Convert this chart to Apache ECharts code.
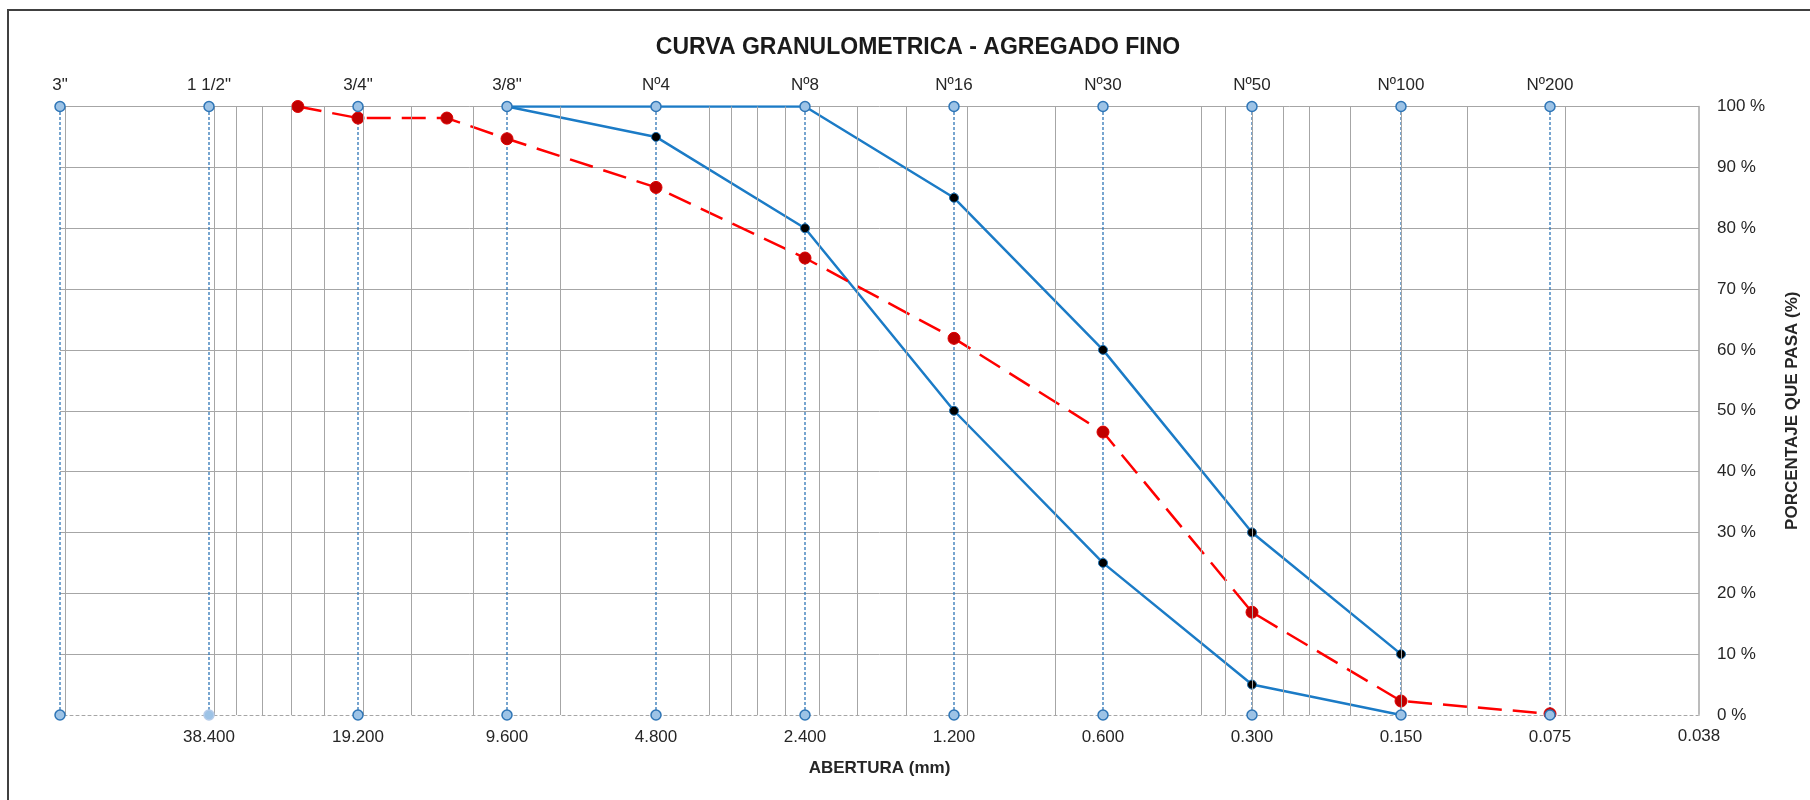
<!DOCTYPE html>
<html>
<head>
<meta charset="utf-8">
<title>Curva granulometrica</title>
<script src="https://cdn.jsdelivr.net/npm/echarts@6/dist/echarts.min.js"></script>
<style>
  html, body { margin: 0; padding: 0; background: #fff; }
  #chart { width: 1810px; height: 800px; }
</style>
</head>
<body>
<div id="chart"></div>
<script>
  // tamices (abertura en mm)
  const SIEVES = ['3"', '1 1/2"', '3/4"', '3/8"', 'Nº4', 'Nº8', 'Nº16', 'Nº30', 'Nº50', 'Nº100', 'Nº200'];
  const SIEVE_MM = [76.8, 38.4, 19.2, 9.6, 4.8, 2.4, 1.2, 0.6, 0.3, 0.15, 0.075];
  const MM_LABELS = ['', '38.400', '19.200', '9.600', '4.800', '2.400', '1.200', '0.600', '0.300', '0.150', '0.075'];
  const AXIS_END_MM = 0.0375;
  const AXIS_END_LABEL = '0.038';
  const AXIS_START_MM = 76.8;

  // huso granulometrico
  const LIMIT_MM = [9.6, 4.8, 2.4, 1.2, 0.6, 0.3, 0.15];
  const LIMIT_UPPER = [100, 100, 100, 85, 60, 30, 10];
  const LIMIT_LOWER = [100, 95, 80, 50, 25, 5, 0];

  // muestra
  const SAMPLE_MM = [25.4, 19.2, 12.7, 9.6, 4.8, 2.4, 1.2, 0.6, 0.3, 0.15, 0.075];
  const SAMPLE_PASA = [100, 98.1, 98.1, 94.7, 86.7, 75.1, 61.9, 46.5, 16.9, 2.3, 0.2];

  // lineas verticales de la grilla (escala log)
  const GRID_MM = [0.075, 0.1125, 0.15, 0.1875, 0.225, 0.2625, 0.3, 0.3375,
    0.375, 0.75, 1.125, 1.5, 1.875, 2.25, 2.625, 3.0, 3.375,
    3.75, 7.5, 11.25, 15, 18.75, 22.5, 26.25, 30, 33.75, 37.5, 75];

  const chart = echarts.init(document.getElementById('chart'));

  const pair = (xs, ys) => xs.map((x, i) => [x, ys[i]]);

  const labelFont = { fontFamily: 'Liberation Sans, Arial', fontSize: 17, color: '#262626' };

  // lineas punteadas de cada tamiz
  const sieveLines = SIEVE_MM.map((mm) => ({
    type: 'line',
    data: [[mm, 0], [mm, 100]],
    showSymbol: false,
    silent: true,
    z: 1,
    lineStyle: { color: '#2E75B6', width: 1.3, type: [3, 2] }
  }));

  chart.setOption({
    backgroundColor: '#fff',
    animation: false,
    title: {
      text: 'CURVA GRANULOMETRICA - AGREGADO FINO',
      left: 913,
      top: 31,
      textAlign: 'center',
      textStyle: { fontFamily: 'Liberation Sans, Arial', fontSize: 23, fontWeight: 'bold', color: '#1a1a1a' }
    },
    graphic: [{
      type: 'rect',
      shape: { x: 8, y: 10, width: 1900, height: 900 },
      style: { fill: 'none', stroke: '#404040', lineWidth: 2 },
      silent: true
    }],
    grid: { left: 60, right: 111, top: 106.5, bottom: 85 },
    xAxis: {
      type: 'log',
      logBase: 2,
      inverse: true,
      min: AXIS_END_MM,
      max: AXIS_START_MM,
      name: 'ABERTURA (mm)',
      nameLocation: 'middle',
      nameGap: 45,
      nameTextStyle: { fontFamily: 'Liberation Sans, Arial', fontSize: 17, fontWeight: 'bold', color: '#262626' },
      axisLine: { show: true, lineStyle: { color: '#a6a6a6', width: 1, type: [3, 3] } },
      axisTick: { show: false },
      axisLabel: { show: false },
      splitLine: { show: false }
    },
    yAxis: {
      type: 'value',
      position: 'right',
      min: 0,
      max: 100,
      interval: 10,
      name: 'PORCENTAJE QUE PASA (%)',
      nameLocation: 'middle',
      nameRotate: 90,
      nameGap: 85,
      nameTextStyle: { fontFamily: 'Liberation Sans, Arial', fontSize: 17, fontWeight: 'bold', color: '#262626' },
      axisLine: { show: true, lineStyle: { color: '#a6a6a6', width: 1.5 } },
      axisTick: { show: false },
      axisLabel: Object.assign({ formatter: '{value} %', margin: 18 }, labelFont),
      splitLine: { show: true, showMinLine: false, lineStyle: { color: '#a6a6a6', width: 1 } }
    },
    series: [
      {
        name: 'grilla',
        type: 'line',
        data: [],
        silent: true,
        z: 0,
        markLine: {
          silent: true,
          symbol: 'none',
          label: { show: false },
          lineStyle: { color: '#a6a6a6', type: 'solid', width: 1 },
          data: GRID_MM.map(v => ({ xAxis: v }))
        }
      },
      ...sieveLines,
      {
        name: 'Limite superior',
        type: 'line',
        data: pair(LIMIT_MM, LIMIT_UPPER),
        z: 2,
        symbol: 'circle',
        symbolSize: 9,
        lineStyle: { color: '#1B7BC6', width: 2.5 },
        itemStyle: { color: '#000', borderColor: '#1B6FB0', borderWidth: 1 }
      },
      {
        name: 'Limite inferior',
        type: 'line',
        data: pair(LIMIT_MM, LIMIT_LOWER),
        z: 2,
        symbol: 'circle',
        symbolSize: 9,
        lineStyle: { color: '#1B7BC6', width: 2.5 },
        itemStyle: { color: '#000', borderColor: '#1B6FB0', borderWidth: 1 }
      },
      {
        name: 'Muestra',
        type: 'line',
        data: pair(SAMPLE_MM, SAMPLE_PASA),
        z: 3,
        symbol: 'circle',
        symbolSize: 12,
        lineStyle: { color: '#FF0000', width: 2.5, type: [24, 11] },
        itemStyle: { color: '#C00000', borderColor: '#E00000', borderWidth: 1 }
      },
      {
        // marcadores superiores con el nombre del tamiz
        name: 'tamiz',
        type: 'scatter',
        data: SIEVE_MM.map((mm, i) => ({ value: [mm, 100], name: SIEVES[i] })),
        z: 5,
        symbol: 'circle',
        symbolSize: 10,
        itemStyle: { color: '#9DC3E6', borderColor: '#2E75B6', borderWidth: 1.5, opacity: 1 },
        label: Object.assign({ show: true, position: 'top', distance: 7, formatter: p => p.name }, labelFont)
      },
      {
        // marcadores inferiores con la abertura
        name: 'abertura',
        type: 'scatter',
        data: SIEVE_MM.map((mm, i) => ({
          value: [mm, 0],
          name: MM_LABELS[i],
          itemStyle: i === 1 ? { borderColor: '#B4CBEA' } : undefined
        })),
        z: 5,
        symbol: 'circle',
        symbolSize: 10,
        itemStyle: { color: '#9DC3E6', borderColor: '#2E75B6', borderWidth: 1.5, opacity: 1 },
        label: Object.assign({ show: true, position: 'bottom', distance: 8, formatter: p => p.name }, labelFont)
      },
      {
        name: 'fin eje',
        type: 'scatter',
        data: [{ value: [AXIS_END_MM, 0], name: AXIS_END_LABEL }],
        z: 5,
        symbol: 'circle',
        symbolSize: 1,
        itemStyle: { color: '#ffffff', opacity: 1 },
        label: Object.assign({ show: true, position: 'bottom', distance: 12, formatter: p => p.name }, labelFont)
      }
    ]
  });

  window.addEventListener('resize', () => chart.resize());
</script>
</body>
</html>
